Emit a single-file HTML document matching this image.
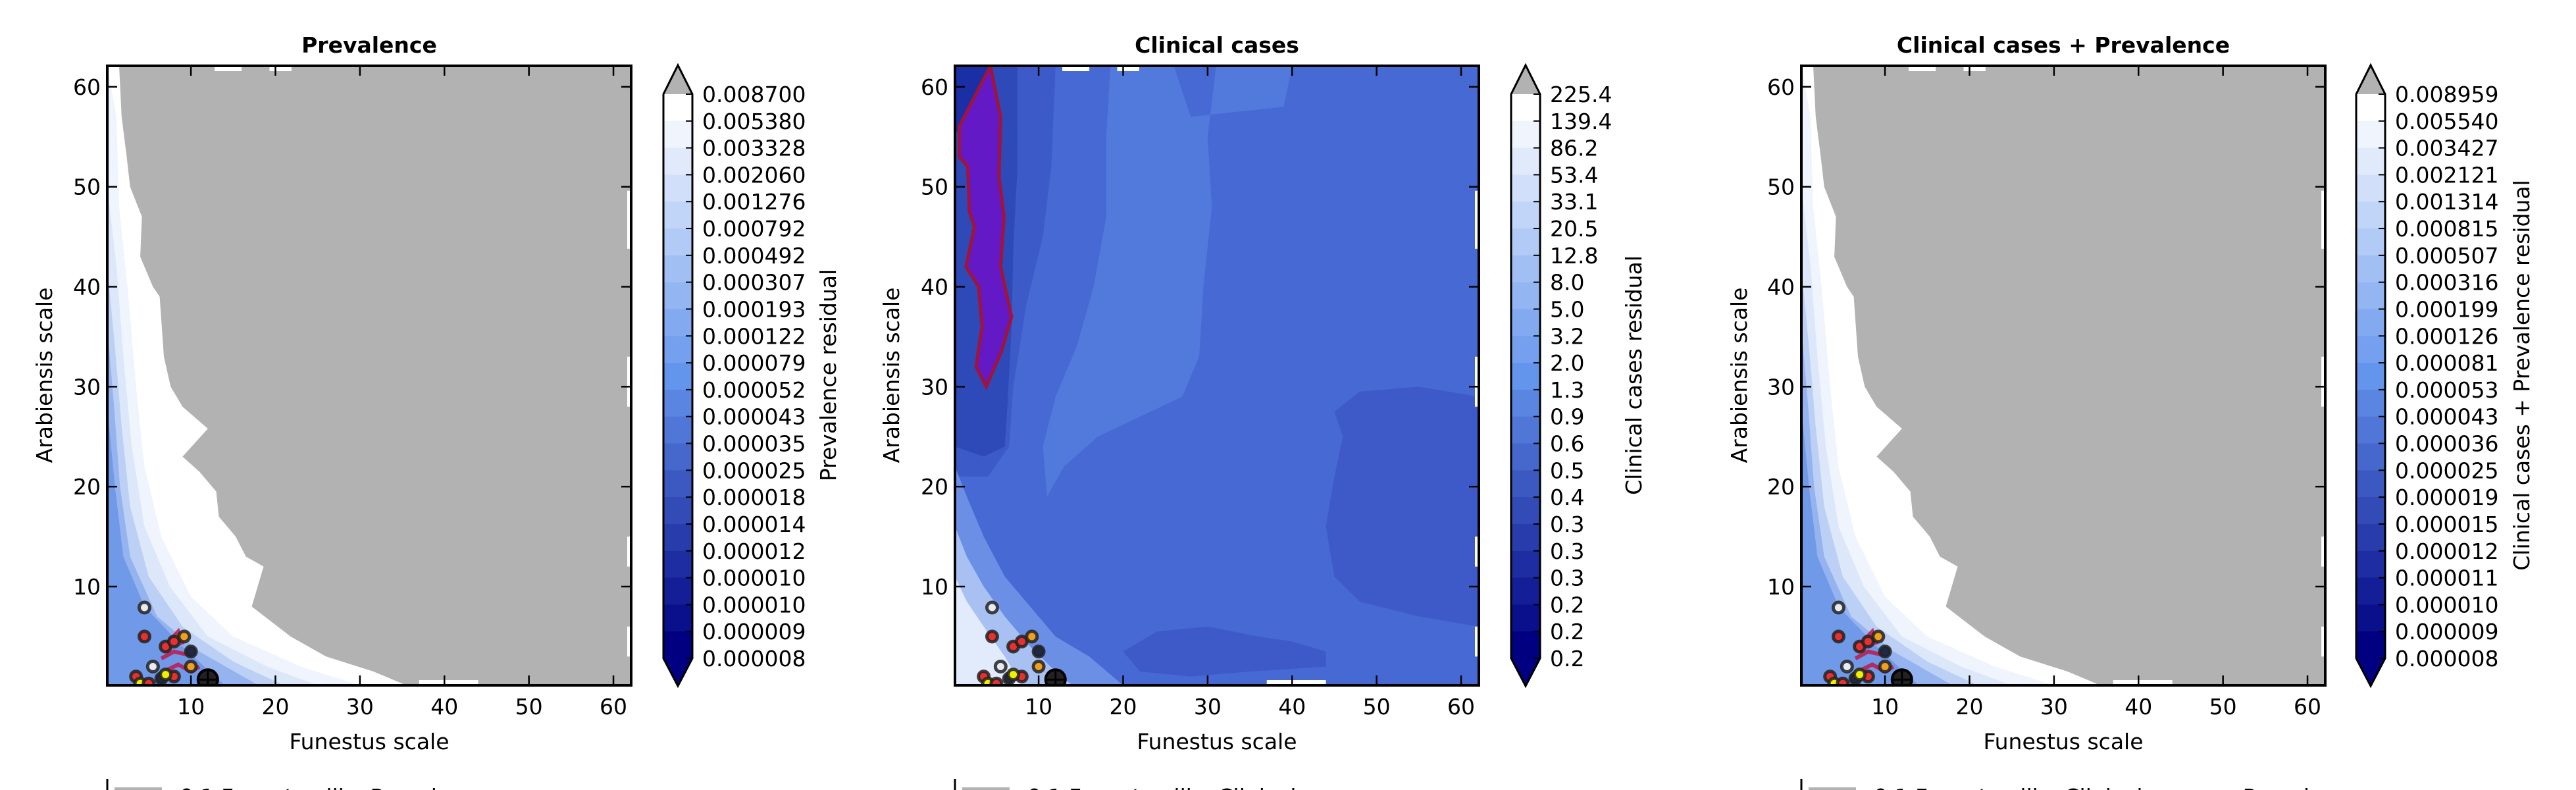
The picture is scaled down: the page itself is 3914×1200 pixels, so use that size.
<!DOCTYPE html>
<html><head><meta charset="utf-8">
<style>
html,body{margin:0;padding:0;background:#fff;}
svg{display:block;font-family:"DejaVu Sans","Liberation Sans",sans-serif;}
</style></head>
<body>
<svg id="fig" xmlns="http://www.w3.org/2000/svg" width="3914" height="1200" viewBox="0 0 3914 1200"></svg>
<script>
// ---------- data ----------
const xTicks = [10,20,30,40,50,60];
const yTicks = [10,20,30,40,50,60];
const titles = ["Prevalence","Clinical cases","Clinical cases + Prevalence"];
const legendTexts = ["0.1 Funestus-like Prevalence","0.1 Funestus-like Clinical","0.1 Funestus-like Clinical cases + Prevalence"];
const cbarLabels1 = ["0.008700","0.005380","0.003328","0.002060","0.001276","0.000792","0.000492","0.000307","0.000193","0.000122","0.000079","0.000052","0.000043","0.000035","0.000025","0.000018","0.000014","0.000012","0.000010","0.000010","0.000009","0.000008"];
const cbarLabels2 = ["225.4","139.4","86.2","53.4","33.1","20.5","12.8","8.0","5.0","3.2","2.0","1.3","0.9","0.6","0.5","0.4","0.3","0.3","0.3","0.2","0.2","0.2"];
const cbarLabels3 = ["0.008959","0.005540","0.003427","0.002121","0.001314","0.000815","0.000507","0.000316","0.000199","0.000126","0.000081","0.000053","0.000043","0.000036","0.000025","0.000019","0.000015","0.000012","0.000011","0.000010","0.000009","0.000008"];
const cbarTitles = ["Prevalence residual","Clinical cases residual","Clinical cases + Prevalence residual"];
const grayBoundary = [[1.5,62.1],[1.8,57],[2.4,53],[2.8,50],[4.2,47],[4,43],[5.5,40],[6.3,39],[6.8,33],[7.6,30],[9,28],[12,25.8],[9,23],[11,21.5],[13,19.5],[13.3,17],[15.3,15],[16.5,13],[18.6,12],[17.2,8],[21.8,5],[26,3],[31.6,1.5],[35.5,0.12],[62.1,0.12],[62.1,62.1]];
const prevBands = [
 {c:"#f0f4fd", pts:[[0.1,62.1],[1.2,57],[1.5,48],[2.5,40],[3.5,30],[4.5,22],[6.5,15],[10,9],[15,5],[23,2],[30,0.12],[0.1,0.12]]},
 {c:"#dde7fa", pts:[[0.1,50],[1.2,42],[2,33],[3,24],[4.5,16],[7.5,10],[12,5],[19,2],[25,0.12],[0.1,0.12]]},
 {c:"#bcd0f5", pts:[[0.1,42],[1,34],[1.8,26],[2.8,18],[5,11],[9,6],[15,2.5],[21,0.12],[0.1,0.12]]},
 {c:"#94b3ef", pts:[[0.1,36],[0.9,28],[1.6,20],[2.8,13],[6,7],[11,3.5],[18,0.12],[0.1,0.12]]},
 {c:"#7099e8", pts:[[0.1,28],[1,20],[2,13],[4.5,8],[9,4],[14,0.12],[0.1,0.12]]}
];
const clinRegions = [
 {c:"#5279dc", pts:[[18.5,62.1],[26,62.1],[28,57],[39,58],[40,62.1],[31,62.1],[30,55],[30.5,48],[29.5,40],[29,33],[27,29],[22,27],[17,25],[13,22],[11,19],[10.5,24],[12,29],[14.5,34],[16.5,40],[18,47],[18,55]]},
 {c:"#3c5bc8", pts:[[0.1,62.1],[12,62.1],[11.5,52],[10.5,45],[8.5,38],[7,30],[6.5,24],[4,21],[0.1,21]]},
 {c:"#2d4ab8", pts:[[0.1,62.1],[7.5,62.1],[7.5,52],[7,44],[6.8,36],[6.3,28],[6,24],[3.5,23],[0.1,24]]},
 {c:"#1a2ea6", pts:[[0.1,62.1],[4.3,62.1],[0.5,55.5],[0.1,55.5]]},
 {c:"#3d5ac8", pts:[[62.1,29],[55,30],[48,29.5],[45,27.5],[46,25],[45,21],[44,16],[45,11],[48,8.5],[55,7],[62.1,6]]},
 {c:"#3d5ac8", pts:[[20,3.5],[24,5.5],[30,6],[36,5],[40,4.5],[44,3.5],[44,2],[35,1.5],[28,1],[22,1.5]]},
 {c:"#6a8fe4", pts:[[0.1,22],[1.5,19],[3.5,15],[6,11],[9,8],[12,5],[16,3],[20,0.12],[0.1,0.12]]},
 {c:"#a8c1f2", pts:[[0.1,16],[1.5,13],[3.5,10],[6,7],[9,4],[12,1.5],[14,0.12],[0.1,0.12]]},
 {c:"#e2ebfb", pts:[[0.1,11],[1.5,8.5],[3.5,6],[6,3],[8,0.12],[0.1,0.12]]}
];
const purpleRegion = [[4.3,62.1],[5.5,57],[5.3,51],[5.9,47],[5.5,42],[6.8,37],[5.6,33.5],[3.8,30],[2.6,32],[3.3,36],[2.9,40],[1.4,42],[2.4,46],[1.8,47.5],[1.6,52],[0.6,53],[0.6,56]];
const ptsX = [4.5,4.5,7,8,9.2,10,5.5,10,8,3.5,4,5,6.5,7];
const ptsY = [7.9,5,4,4.5,5,3.5,2,2,1,1,0.3,0.3,0.8,1.2];
const ptsC = ["#e8eaf5","#e83030","#e83030","#e83030","#f0a020","#202848","#e8eaf5","#f0a020","#e83030","#e83030","#f0f000","#e83030","#202848","#f0f000"];
const starPt = [12,0.7];

// ---------- layout ----------
const NS="http://www.w3.org/2000/svg";
const svg=document.getElementById('fig');
const panels=[{L:163,cb:1008,lab:cbarLabels1,cbt:1258,yl:67},{L:1451,cb:2296,lab:cbarLabels2,cbt:2482,yl:1354},{L:2737,cb:3580,lab:cbarLabels3,cbt:3831,yl:2642}];
const W=796,T=100,B=1041,XMIN=0.1,XMAX=62.1,YMIN=0.12,YMAX=62.1;
function el(tag,attrs,parent){const e=document.createElementNS(NS,tag);for(const k in attrs)e.setAttribute(k,attrs[k]);(parent||svg).appendChild(e);return e;}
function lerp(a,b,t){return Math.round(a+(b-a)*t);}
function hex(r,g,b){return "#"+[r,g,b].map(v=>v.toString(16).padStart(2,"0")).join("");}
function bandColor(i){
  const w=[255,255,255],m=[100,149,237],n=[0,0,128];
  if(i<=10){const t=i/10;return hex(lerp(w[0],m[0],t),lerp(w[1],m[1],t),lerp(w[2],m[2],t));}
  const t=(i-10)/10;return hex(lerp(m[0],n[0],t),lerp(m[1],n[1],t),lerp(m[2],n[2],t));
}
panels.forEach((p,pi)=>{
  const sx=v=>p.L+(v-XMIN)/(XMAX-XMIN)*W;
  const sy=v=>B-(v-YMIN)/(YMAX-YMIN)*(B-T);
  const poly=pts=>pts.map(q=>sx(q[0]).toFixed(1)+","+sy(q[1]).toFixed(1)).join(" ");
  const g=el('g',{});
  
  
  const clipId='clip'+pi;
  const cp=el('clipPath',{id:clipId},g);
  el('rect',{x:p.L,y:T,width:W,height:B-T},cp);
  const plot=el('g',{'clip-path':'url(#'+clipId+')'},g);
  
  
  if(pi!==1){
    el('rect',{x:p.L,y:T,width:W,height:B-T,fill:'#ffffff'},plot);
    prevBands.forEach(b=>{const e=el('polygon',{points:poly(b.pts),fill:b.c},plot);
      
      });
    const gr=el('polygon',{points:poly(grayBoundary),fill:'#b2b2b2'},plot);
    
    
  } else {
    el('rect',{x:p.L,y:T,width:W,height:B-T,fill:'#4669d3'},plot);
    clinRegions.forEach(b=>{const e=el('polygon',{points:poly(b.pts),fill:b.c},plot);
      
      });
    const pr=el('polygon',{points:poly(purpleRegion),fill:'#6419c6',stroke:'#a0143c','stroke-width':5},plot);
    
    
  }
  if(pi!==1){
    const sq=[[[6.5,2.8],[8,3.5],[9.5,3.2],[10.5,3.8]],[[6.8,1.5],[8.5,2.2],[10,1.5],[11,2]],[[7,4.2],[8.5,5.5],[9,4.2]]];
    sq.forEach(s=>{const e=el('polyline',{points:poly(s),fill:'none',stroke:'#c0184a','stroke-width':6,opacity:0.85},plot);
      
      });
  }
  [[12.8,16],[19.3,21.9]].forEach(d=>el('rect',{x:sx(d[0]),y:T,width:sx(d[1])-sx(d[0]),height:8,fill:'#fff'},plot));
  [[37,44]].forEach(d=>el('rect',{x:sx(d[0]),y:B-8,width:sx(d[1])-sx(d[0]),height:8,fill:'#fff'},plot));
  [[43.8,49.6],[28,33],[12,15],[3,6]].forEach(d=>el('rect',{x:p.L+W-6,y:sy(d[1]),width:6,height:sy(d[0])-sy(d[1]),fill:'#fff'},plot));
  ptsX.forEach((x,i)=>{
    const c=el('circle',{cx:sx(x),cy:sy(ptsY[i]),r:8,fill:ptsC[i],stroke:'#222','stroke-width':5,'stroke-opacity':0.85},plot);
    
    
  });
  const st=el('circle',{cx:sx(starPt[0]),cy:sy(starPt[1]),r:15,fill:'#222',stroke:'#000','stroke-width':4},plot);
  
  
  el('path',{d:`M${sx(starPt[0])-13},${sy(starPt[1])} h26 M${sx(starPt[0])},${sy(starPt[1])-13} v26`,stroke:'#000','stroke-width':3},plot);
  const fr=el('rect',{x:p.L,y:T,width:W,height:B-T,fill:'none',stroke:'#000','stroke-width':4},g);
  
  
  xTicks.forEach(v=>{
    el('line',{x1:sx(v),x2:sx(v),y1:B,y2:B-15,stroke:'#000','stroke-width':2.5},g);
    el('line',{x1:sx(v),x2:sx(v),y1:T,y2:T+15,stroke:'#000','stroke-width':2.5},g);
    const t=el('text',{x:sx(v),y:1085,'font-size':33,'text-anchor':'middle'},g);t.textContent=v;
    
    
  });
  yTicks.forEach(v=>{
    el('line',{x1:p.L,x2:p.L+15,y1:sy(v),y2:sy(v),stroke:'#000','stroke-width':2.5},g);
    el('line',{x1:p.L+W,x2:p.L+W-15,y1:sy(v),y2:sy(v),stroke:'#000','stroke-width':2.5},g);
    const t=el('text',{x:p.L-10,y:sy(v)+12,'font-size':33,'text-anchor':'end'},g);t.textContent=v;
    
    
  });
  const ti=el('text',{x:p.L+W/2,y:80,'font-size':33,'font-weight':'bold','text-anchor':'middle'},g);ti.textContent=titles[pi];
  
  
  const xl=el('text',{x:p.L+W/2,y:1138,'font-size':33,'text-anchor':'middle'},g);xl.textContent="Funestus scale";
  
  
  const yl=el('text',{x:0,y:0,'font-size':33,'text-anchor':'middle',transform:`translate(${p.yl+12},570) rotate(-90)`},g);yl.textContent="Arabiensis scale";
  
  
  const cb=el('g',{},g);
  
  
  const cx=p.cb,cw=44,ct=143,cbb=1000,n=p.lab.length-1,bh=(cbb-ct)/n;
  el('polygon',{points:`${cx},${ct} ${cx+cw/2},${99} ${cx+cw},${ct}`,fill:'#b2b2b2'},cb);
  el('polygon',{points:`${cx},${cbb} ${cx+cw/2},${1042} ${cx+cw},${cbb}`,fill:'#000080'},cb);
  for(let i=0;i<n;i++) el('rect',{x:cx,y:ct+i*bh,width:cw,height:bh+0.6,fill:bandColor(i)},cb);
  el('polygon',{points:`${cx},${ct} ${cx+cw/2},99 ${cx+cw},${ct} ${cx+cw},${cbb} ${cx+cw/2},1042 ${cx},${cbb}`,fill:'none',stroke:'#000','stroke-width':3},cb);
  p.lab.forEach((s,i)=>{
    const y=ct+i*bh;
    el('line',{x1:cx+cw-10,x2:cx+cw,y1:y,y2:y,stroke:'#000','stroke-width':2},cb);
    const t=el('text',{x:cx+cw+15,y:y+12,'font-size':33},cb);t.textContent=s;
    
    
  });
  const ct2=el('text',{x:0,y:0,'font-size':33,'text-anchor':'middle',transform:`translate(${p.cbt+12},570) rotate(-90)`},cb);ct2.textContent=cbarTitles[pi];
  
  
  const lg=el('g',{},g);
  
  
  el('line',{x1:p.L,x2:p.L,y1:1183,y2:1200,stroke:'#000','stroke-width':3},lg);
  el('rect',{x:p.L+11,y:1196,width:72,height:6,fill:'#b2b2b2'},lg);
  const lt=el('text',{x:p.L+110,y:1222,'font-size':33},lg);lt.textContent=legendTexts[pi];
  
  
});
</script>
</body></html>
